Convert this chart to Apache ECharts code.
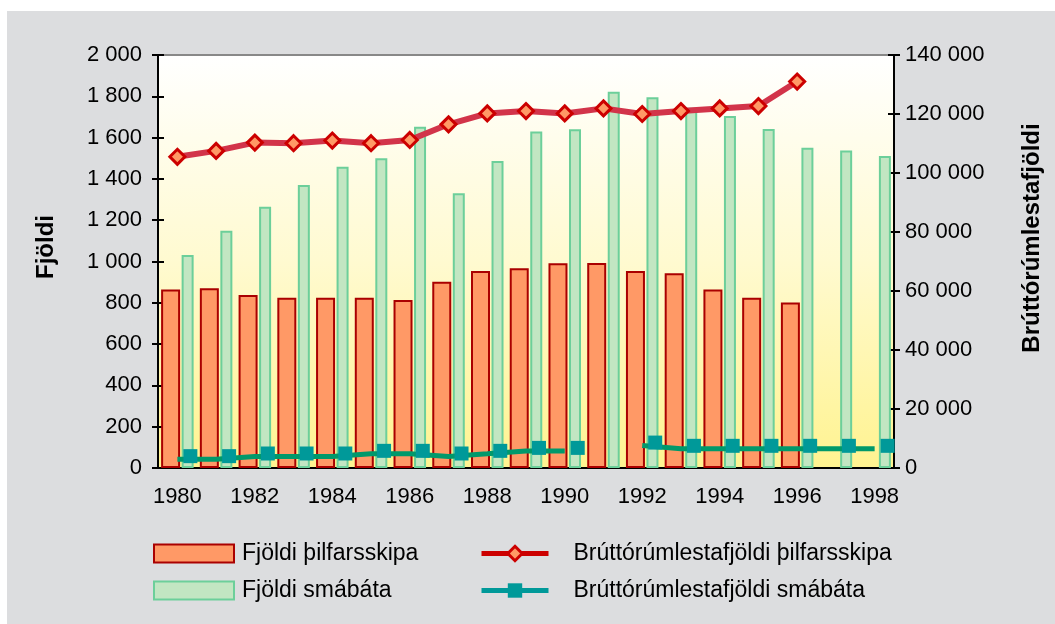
<!DOCTYPE html>
<html>
<head>
<meta charset="utf-8">
<script src="https://cdn.jsdelivr.net/npm/echarts@6/dist/echarts.min.js"></script>
<style>
  html, body { margin: 0; padding: 0; background: #fff; }
  #chart { width: 1055px; height: 624px; }
</style>
</head>
<body>
<div id="chart"></div>
<script>
// ár
var years = ['1980','1981','1982','1983','1984','1985','1986','1987','1988','1989',
             '1990','1991','1992','1993','1994','1995','1996','1997','1998'];
// fjöldi skipa (vinstri ás)
var thilfarsskip = [865, 870, 838, 825, 825, 825, 814, 902, 954, 967,
                    991, 993, 954, 943, 865, 825, 801, null, null];
var smabatar = [1032, 1149, 1265, 1371, 1459, 1500, 1653, 1330, 1487, 1629,
                1640, 1822, 1795, 1745, 1705, 1642, 1551, 1537, 1511];
// brúttórúmlestir (hægri ás)
var brlThilfar = [105500, 107500, 110300, 110100, 111000, 110100, 111200, 116500, 120200, 121000,
                  120200, 121900, 120000, 121000, 121900, 122700, 131000, null, null];
var brlSmabatar = [3000, 3000, 3900, 3900, 3900, 4800, 4800, 3900, 4800, 5800,
                   5800, null, 7600, 6500, 6500, 6500, 6500, 6500, 6500];

var names = ['Fjöldi þilfarsskipa', 'Fjöldi smábáta', 'Brúttórúmlestafjöldi þilfarsskipa', 'Brúttórúmlestafjöldi smábáta'];

function fmt(v) {
  return String(v).replace(/\B(?=(\d{3})+(?!\d))/g, ' ');
}

var font = 'Liberation Sans, Arial, sans-serif';
var lbl = { color: '#000', fontSize: 22, fontFamily: font };

var myChart = echarts.init(document.getElementById('chart'));
var option = {
  backgroundColor: '#fff',
  animation: false,
  textStyle: { fontFamily: font },
  graphic: [
    { type: 'rect', z: -10, silent: true, shape: { x: 7, y: 11, width: 1048, height: 613 }, style: { fill: '#DCDDDF' } },
    // bakgrunnur teiknisvæðis
    { type: 'rect', z: -9, silent: true, shape: { x: 158, y: 55, width: 736, height: 413 },
      style: {
        fill: new echarts.graphic.LinearGradient(0, 0, 0, 1, [
          { offset: 0, color: '#FFFFFF' },
          { offset: 0.5, color: '#FFFAD0' },
          { offset: 1, color: '#FFF390' }
        ])
      } },
    { type: 'text', x: 46, y: 247, rotation: Math.PI / 2,
      style: { text: 'Fjöldi', font: 'bold 24px Liberation Sans, Arial', fill: '#000', align: 'center', verticalAlign: 'middle' } },
    { type: 'text', x: 1032, y: 238, rotation: Math.PI / 2,
      style: { text: 'Brúttórúmlestafjöldi', font: 'bold 24px Liberation Sans, Arial', fill: '#000', align: 'center', verticalAlign: 'middle' } }
  ],
  grid: {
    left: 158, right: 161, top: 55, bottom: 156,
    show: true,
    borderColor: '#888', borderWidth: 2,
    backgroundColor: 'transparent'
  },
  legend: [
    {
      left: 148, top: 537, orient: 'vertical', icon: 'rect',
      itemWidth: 80, itemHeight: 18, itemGap: 14,
      textStyle: { fontSize: 23, color: '#000', fontFamily: font, padding: [0, 0, 0, 3] },
      data: [names[0], names[1]]
    },
    {
      left: 474, top: 537, orient: 'vertical',
      itemWidth: 67, itemHeight: 18, itemGap: 14,
      textStyle: { fontSize: 23, color: '#000', fontFamily: font, padding: [0, 0, 0, 20] },
      data: [
        { name: names[2], itemStyle: { color: '#FF9966', borderColor: '#CC0000', borderWidth: 3 },
          lineStyle: { color: '#CC0000', width: 5 } },
        { name: names[3], itemStyle: { color: '#009999' }, lineStyle: { color: '#009999', width: 5 } }
      ]
    }
  ],
  xAxis: [
    {
      type: 'category', data: years, position: 'bottom',
      axisLine: { lineStyle: { color: '#000', width: 2 } },
      axisTick: { length: 6, lineStyle: { color: '#000', width: 2 } },
      axisLabel: Object.assign({ interval: 1, margin: 18 }, lbl)
    },
    {
      type: 'category', data: years, position: 'bottom',
      axisLine: { show: false },
      axisTick: { inside: true, length: 5, lineStyle: { color: '#000', width: 2 } },
      axisLabel: { show: false }
    }
  ],
  yAxis: [
    {
      type: 'value', min: 0, max: 2000, interval: 200, position: 'left',
      splitLine: { show: false },
      axisLine: { show: true, lineStyle: { color: '#000', width: 2 } },
      axisTick: { show: true, length: 6, lineStyle: { color: '#000', width: 2 } },
      axisLabel: Object.assign({ margin: 16, formatter: fmt }, lbl)
    },
    {
      type: 'value', min: 0, max: 140000, interval: 20000, position: 'right',
      splitLine: { show: false },
      axisLine: { show: true, lineStyle: { color: '#000', width: 2 } },
      axisTick: { show: true, length: 6, lineStyle: { color: '#000', width: 2 } },
      axisLabel: Object.assign({ margin: 11, formatter: fmt }, lbl)
    },
    {
      type: 'value', min: 0, max: 2000, interval: 200, position: 'left',
      splitLine: { show: false }, axisLine: { show: false },
      axisTick: { show: true, inside: true, length: 6, lineStyle: { color: '#000', width: 2 } },
      axisLabel: { show: false }
    },
    {
      type: 'value', min: 0, max: 140000, interval: 20000, position: 'right',
      splitLine: { show: false }, axisLine: { show: false },
      axisTick: { show: true, inside: true, length: 6, lineStyle: { color: '#000', width: 2 } },
      axisLabel: { show: false }
    }
  ],
  series: [
    {
      name: names[0], type: 'bar', yAxisIndex: 0, data: thilfarsskip,
      barWidth: 19, barGap: '8%',
      itemStyle: { color: '#FF9966', borderColor: '#AA0000', borderWidth: 2 }
    },
    {
      name: names[1], type: 'bar', yAxisIndex: 0, data: smabatar,
      barWidth: 12, barGap: '8%',
      itemStyle: { color: '#C2E6C2', borderColor: '#6CCF9A', borderWidth: 2 }
    },
    {
      name: names[2], type: 'line', yAxisIndex: 1, data: brlThilfar,
      symbol: 'diamond', symbolSize: 15,
      lineStyle: { color: '#D2344A', width: 6 },
      itemStyle: { color: '#FF9966', borderColor: '#CC0000', borderWidth: 3 }
    },
    {
      name: names[3], type: 'line', yAxisIndex: 1, data: brlSmabatar,
      symbol: 'rect', symbolSize: 14, symbolOffset: [13, -3],
      lineStyle: { color: '#00996B', width: 5 },
      itemStyle: { color: '#009999', borderWidth: 0 }
    }
  ]
};
myChart.setOption(option);
</script>
</body>
</html>
